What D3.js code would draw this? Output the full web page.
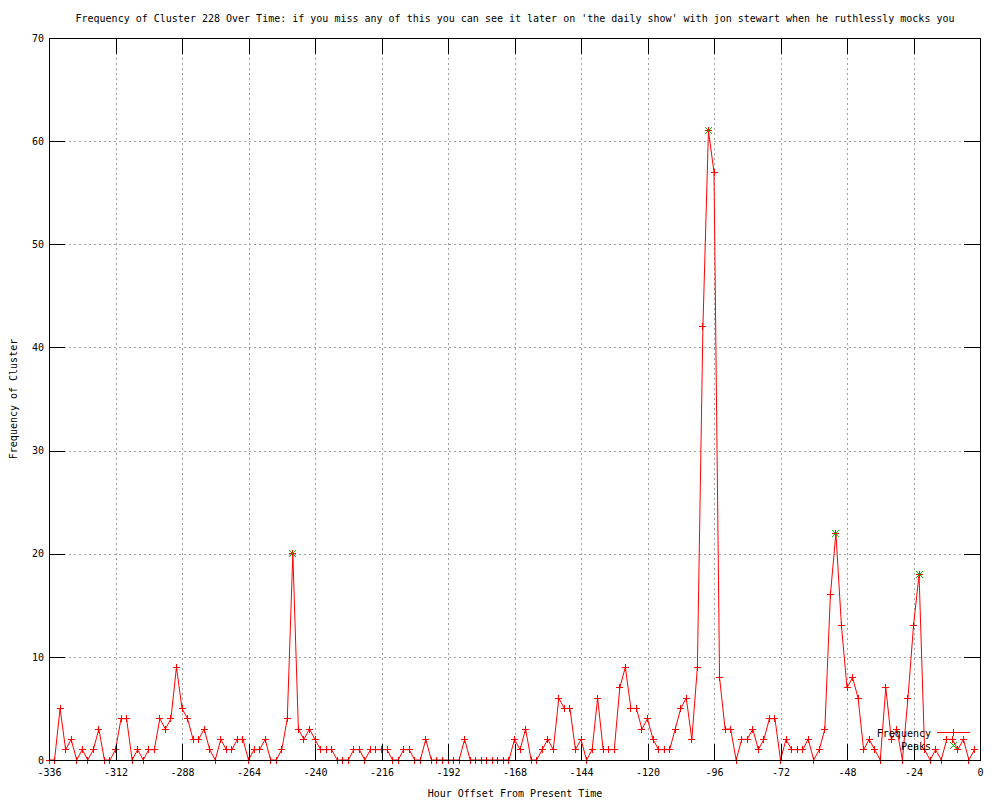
<!DOCTYPE html>
<html><head><meta charset="utf-8">
<script src="https://cdn.jsdelivr.net/npm/d3@7"></script>
<style>
body{margin:0;background:#fff}
text{font-family:"DejaVu Sans Mono","Liberation Mono",monospace;font-size:10px;fill:#000}
</style>
</head><body>
<svg id="c" width="1000" height="800"></svg>
<script>
// ---- data ----
const startHour = -336;
const hourStep = 2;
const frequency = [
  0,0,5,1,2,0,1,0,1,3, 0,0,1,4,4,0,1,0,1,1,
  4,3,4,9,5,4,2,2,3,1, 0,2,1,1,2,2,0,1,1,2,
  0,0,1,4,20,3,2,3,2,1, 1,1,0,0,0,1,1,0,1,1,
  1,1,0,0,1,1,0,0,2,0, 0,0,0,0,0,2,0,0,0,0,
  0,0,0,0,2,1,3,0,0,1, 2,1,6,5,5,1,2,0,1,6,
  1,1,1,7,9,5,5,3,4,2, 1,1,1,3,5,6,2,9,42,61,
  57,8,3,3,0,2,2,3,1,2, 4,4,0,2,1,1,1,2,0,1,
  3,16,22,13,7,8,6,1,2,1, 0,7,2,3,0,6,13,18,1,0,
  1,0,2,2,1,2,0,1
];
const hours = frequency.map((_, i) => startHour + hourStep * i);
const peakHours = [-248, -98, -52, -22];
const peakValues = [20, 61, 22, 18];
const xTickValues = [-336,-312,-288,-264,-240,-216,-192,-168,-144,-120,-96,-72,-48,-24,0];
const yTickValues = [0,10,20,30,40,50,60,70];
const seriesNames = ["Frequency", "Peaks"];
const titleText = "Frequency of Cluster 228 Over Time: if you miss any of this you can see it later on 'the daily show' with jon stewart when he ruthlessly mocks you";
const xLabelText = "Hour Offset From Present Time";
const yLabelText = "Frequency of Cluster";

// ---- layout ----
const L = 49, R = 980, T = 38, B = 760;
const RED = "#ff0000", GREEN = "#00c000";
const svg = d3.select("#c");
const x = d3.scaleLinear().domain([-336, 0]).range([L, R]);
const y = d3.scaleLinear().domain([0, 70]).range([B, T]);

// grid
const gridX = svg.append("g").attr("transform", `translate(0,${B})`)
  .call(d3.axisBottom(x).tickValues(xTickValues).tickSize(-(B - T)).tickFormat(""));
const gridY = svg.append("g").attr("transform", `translate(${L},0)`)
  .call(d3.axisLeft(y).tickValues(yTickValues).tickSize(-(R - L)).tickFormat(""));
[gridX, gridY].forEach(g => {
  g.select(".domain").remove();
  g.selectAll("line").attr("stroke", "#a0a0a0").attr("stroke-dasharray", "2,3")
    .attr("shape-rendering", "crispEdges");
});

// frequency line
svg.append("path")
  .datum(frequency)
  .attr("fill", "none").attr("stroke", RED).attr("stroke-width", 1)
  .attr("d", d3.line().x((d, i) => x(hours[i])).y(d => y(d)));

const plusPath = "M-3,0.5H4M0.5,-3V4";
const crossPath = "M-3,-3L4,4M4,-3L-3,4";

svg.append("g").selectAll("path").data(frequency).join("path")
  .attr("transform", (d, i) => `translate(${Math.round(x(hours[i]) - 0.5)},${Math.round(y(d) - 0.5)})`)
  .attr("d", plusPath).attr("stroke", RED).attr("fill", "none").attr("shape-rendering", "crispEdges");

svg.append("g").selectAll("path").data(peakValues).join("path")
  .attr("transform", (d, i) => `translate(${Math.round(x(peakHours[i]) - 0.5)},${Math.round(y(d) - 0.5)})`)
  .attr("d", crossPath).attr("stroke", GREEN).attr("fill", "none");

// ticks (inward, mirrored)
const axB = svg.append("g").attr("transform", `translate(0,${B})`)
  .call(d3.axisBottom(x).tickValues(xTickValues).tickSize(-16).tickPadding(9));
const axT = svg.append("g").attr("transform", `translate(0,${T})`)
  .call(d3.axisTop(x).tickValues(xTickValues).tickSize(-16).tickFormat(""));
const axL = svg.append("g").attr("transform", `translate(${L},0)`)
  .call(d3.axisLeft(y).tickValues(yTickValues).tickSize(-16).tickPadding(5));
const axR = svg.append("g").attr("transform", `translate(${R},0)`)
  .call(d3.axisRight(y).tickValues(yTickValues).tickSize(-16).tickFormat(""));
[axB, axT, axL, axR].forEach(g => {
  g.select(".domain").remove();
  g.attr("font-family", null).attr("font-size", null);
  g.selectAll("line").attr("stroke", "#000").attr("shape-rendering", "crispEdges");
  g.selectAll("text").attr("fill", "#000");
});
axB.selectAll("text").text(d => d === 0 ? "0" : String(d).replace("-", "-"));

// border
svg.append("rect").attr("x", L + 0.5).attr("y", T + 0.5)
  .attr("width", R - L).attr("height", B - T)
  .attr("fill", "none").attr("stroke", "#000").attr("shape-rendering", "crispEdges");

// titles
svg.append("text").attr("x", 515).attr("y", 18).attr("dy", "0.35em")
  .attr("text-anchor", "middle").text(titleText);
svg.append("text").attr("x", 515).attr("y", 793).attr("dy", "0.35em")
  .attr("text-anchor", "middle").text(xLabelText);
svg.append("text").attr("transform", "translate(13,399) rotate(-90)").attr("dy", "0.35em")
  .attr("text-anchor", "middle").text(yLabelText);

// legend
const legend = svg.append("g");
legend.append("text").attr("x", 931).attr("y", 733).attr("dy", "0.35em")
  .attr("text-anchor", "end").text(seriesNames[0]);
legend.append("line").attr("x1", 937).attr("x2", 970).attr("y1", 732.5).attr("y2", 732.5)
  .attr("stroke", RED).attr("shape-rendering", "crispEdges");
legend.append("path").attr("transform", "translate(953,732)").attr("d", plusPath)
  .attr("stroke", RED).attr("fill", "none").attr("shape-rendering", "crispEdges");
legend.append("text").attr("x", 931).attr("y", 746).attr("dy", "0.35em")
  .attr("text-anchor", "end").text(seriesNames[1]);
legend.append("path").attr("transform", "translate(953,745)").attr("d", crossPath)
  .attr("stroke", GREEN).attr("fill", "none");
</script>
</body></html>
